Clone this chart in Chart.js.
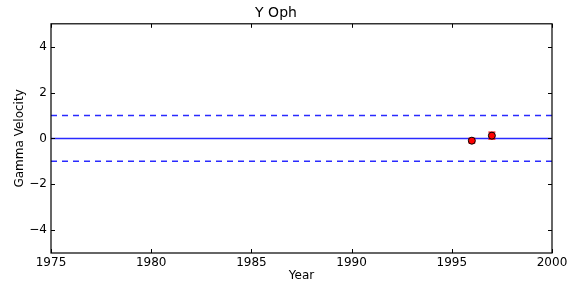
<!DOCTYPE html>
<html>
<head>
<meta charset="utf-8">
<script src="https://cdn.jsdelivr.net/npm/chart.js@4/dist/chart.umd.min.js"></script>
<style>
  html, body { margin: 0; padding: 0; background: #fff; }
  #wrap { width: 582px; height: 289px; position: relative; }
</style>
</head>
<body>
<div id="wrap"><canvas id="c"></canvas></div>
<script>
// datos
const years = [1996.0, 1997.0];
const gamma = [-0.10, 0.12];
const gammaErr = [0.10, 0.15];
const refLevels = [0, 1, -1];
const xRange = [1975, 2000];
const xTicks = [1975, 1980, 1985, 1990, 1995, 2000];
const yTicks = [-4, -2, 0, 2, 4];

const FONT = "'DejaVu Sans', sans-serif";

// ticks hacia dentro en los cuatro lados, como matplotlib
const tickPlugin = {
    id: 'insideTicks',
    afterDraw(chart) {
        const { ctx, chartArea: a, scales: { x, y } } = chart;
        ctx.save();
        ctx.strokeStyle = '#000';
        ctx.lineWidth = 1;
        ctx.beginPath();
        xTicks.forEach(v => {
            const px = Math.round(x.getPixelForValue(v)) + 0.5;
            ctx.moveTo(px, a.bottom); ctx.lineTo(px, a.bottom - 4);
            ctx.moveTo(px, a.top); ctx.lineTo(px, a.top + 4);
        });
        yTicks.forEach(v => {
            const py = Math.round(y.getPixelForValue(v)) + 0.5;
            ctx.moveTo(a.left, py); ctx.lineTo(a.left + 4, py);
            ctx.moveTo(a.right, py); ctx.lineTo(a.right - 4, py);
        });
        ctx.stroke();
        ctx.lineWidth = 1.2;
        ctx.strokeRect(a.left, a.top, a.right - a.left, a.bottom - a.top);
        ctx.restore();
    }
};

// barras de error verticales
const errPlugin = {
    id: 'errBars',
    beforeDatasetDraw(chart, args) {
        if (args.index !== 3) return;
        const { ctx, scales: { x, y } } = chart;
        ctx.save();
        ctx.strokeStyle = '#ff0000';
        ctx.lineWidth = 1.2;
        years.forEach((yr, i) => {
            const px = x.getPixelForValue(yr);
            const top = y.getPixelForValue(gamma[i] + gammaErr[i]);
            const bot = y.getPixelForValue(gamma[i] - gammaErr[i]);
            ctx.beginPath();
            ctx.moveTo(px, top); ctx.lineTo(px, bot);
            ctx.moveTo(px - 3.5, top); ctx.lineTo(px + 3.5, top);
            ctx.moveTo(px - 3.5, bot); ctx.lineTo(px + 3.5, bot);
            ctx.stroke();
        });
        ctx.restore();
    }
};

const lineSets = refLevels.map(lv => ({
    type: 'line',
    data: xRange.map(xv => ({ x: xv, y: lv })),
    borderColor: '#2a2aff',
    borderWidth: 1.5,
    borderDash: lv === 0 ? [] : [6, 5],
    pointRadius: 0,
    order: 2
}));

new Chart(document.getElementById('c'), {
    type: 'scatter',
    data: {
        datasets: [
            ...lineSets,
            {
                data: years.map((yr, i) => ({ x: yr, y: gamma[i] })),
                backgroundColor: '#ff0000',
                borderColor: '#000000',
                borderWidth: 1,
                pointRadius: 3.5,
                order: 1
            }
        ]
    },
    options: {
        responsive: true,
        maintainAspectRatio: false,
        animation: false,
        layout: { padding: { top: 0, right: 30, left: 0, bottom: 0 } },
        plugins: {
            legend: { display: false },
            tooltip: { enabled: false },
            title: {
                display: true,
                text: 'Y Oph',
                color: '#000',
                font: { family: FONT, size: 14, weight: 'normal' },
                padding: { top: 5, bottom: 2 }
            }
        },
        scales: {
            x: {
                type: 'linear',
                min: xRange[0], max: xRange[1],
                afterBuildTicks: s => { s.ticks = xTicks.map(v => ({ value: v })); },
                afterFit: s => { s.height = 36; },
                grid: { display: false, drawTicks: false },
                border: { display: false },
                ticks: { color: '#000', font: { family: FONT, size: 12 }, padding: 3, maxRotation: 0,
                    callback: v => String(v) },
                title: { display: true, text: 'Year', color: '#000', font: { family: FONT, size: 12 },
                    padding: { top: 0, bottom: 6 } }
            },
            y: {
                min: -5, max: 5,
                afterBuildTicks: s => { s.ticks = yTicks.map(v => ({ value: v })); },
                afterFit: s => { s.width = 51; },
                grid: { display: false, drawTicks: false },
                border: { display: false },
                ticks: {
                    color: '#000', font: { family: FONT, size: 12 }, padding: 4,
                    callback: v => v < 0 ? '\u2212' + Math.abs(v) : String(v)
                },
                title: { display: true, text: 'Gamma Velocity', color: '#000', font: { family: FONT, size: 12 },
                    padding: { top: 13, bottom: 0 } }
            }
        }
    },
    plugins: [tickPlugin, errPlugin]
});
</script>
</body>
</html>
